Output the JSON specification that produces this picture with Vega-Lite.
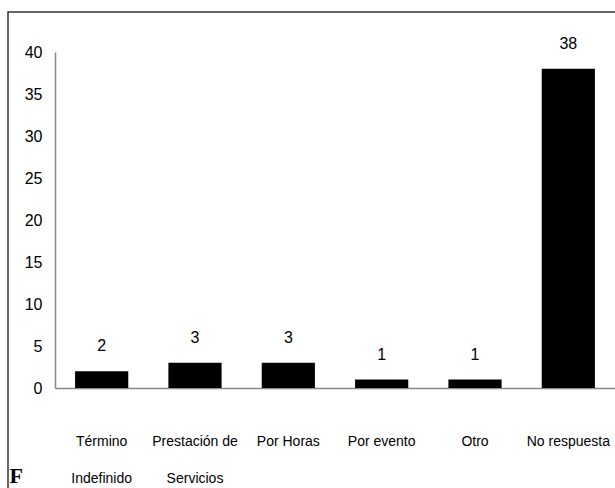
{
  "$schema": "https://vega.github.io/schema/vega-lite/v6.json",
  "autosize": "none",
  "padding": {"left": 8, "top": 12, "right": 0, "bottom": 0},
  "width": 612,
  "height": 482,
  "config": {
    "view": {"stroke": "#333333", "strokeWidth": 1.5},
    "font": "Liberation Sans, Arial, sans-serif"
  },
  "data": {
    "values": [
      {"tipo": "Término Indefinido", "valor": 2},
      {"tipo": "Prestación de Servicios", "valor": 3},
      {"tipo": "Por Horas", "valor": 3},
      {"tipo": "Por evento", "valor": 1},
      {"tipo": "Otro", "valor": 1},
      {"tipo": "No respuesta", "valor": 38}
    ]
  },
  "encoding": {
    "x": {
      "field": "tipo",
      "type": "nominal",
      "sort": null,
      "scale": {"range": [47, 607], "paddingInner": 0.43, "paddingOuter": 0.215},
      "axis": {
        "orient": "bottom",
        "offset": -106,
        "title": null,
        "ticks": false,
        "domainColor": "#888888",
        "domainWidth": 1.5,
        "labelAngle": 0,
        "labelFont": "Liberation Sans, Arial, sans-serif",
        "labelFontSize": 14,
        "labelColor": "#000000",
        "labelPadding": 57,
        "labelLineHeight": 37,
        "labelBaseline": "alphabetic",
        "labelExpr": "datum.value == 'Término Indefinido' ? ['Término', 'Indefinido'] : datum.value == 'Prestación de Servicios' ? ['Prestación de', 'Servicios'] : datum.value"
      }
    },
    "y": {
      "field": "valor",
      "type": "quantitative",
      "scale": {"domain": [0, 40], "range": [376, 40], "nice": false, "zero": true},
      "axis": {
        "orient": "left",
        "offset": -47,
        "values": [0, 5, 10, 15, 20, 25, 30, 35, 40],
        "grid": false,
        "ticks": false,
        "domainColor": "#888888",
        "domainWidth": 1.5,
        "labelFont": "Liberation Sans, Arial, sans-serif",
        "labelFontSize": 16,
        "labelColor": "#000000",
        "labelPadding": 13,
        "title": "F",
        "titleAngle": 0,
        "titleFont": "Liberation Serif, DejaVu Serif, serif",
        "titleFontWeight": "bold",
        "titleFontSize": 22,
        "titleColor": "#000000",
        "titleAlign": "left",
        "titleBaseline": "alphabetic",
        "titleX": -46,
        "titleY": 470
      }
    }
  },
  "layer": [
    {"mark": {"type": "bar", "color": "#000000"}},
    {
      "mark": {
        "type": "text",
        "baseline": "alphabetic",
        "dy": -20,
        "fontSize": 16,
        "color": "#000000",
        "font": "Liberation Sans, Arial, sans-serif"
      },
      "encoding": {"text": {"field": "valor", "type": "quantitative"}}
    }
  ]
}
